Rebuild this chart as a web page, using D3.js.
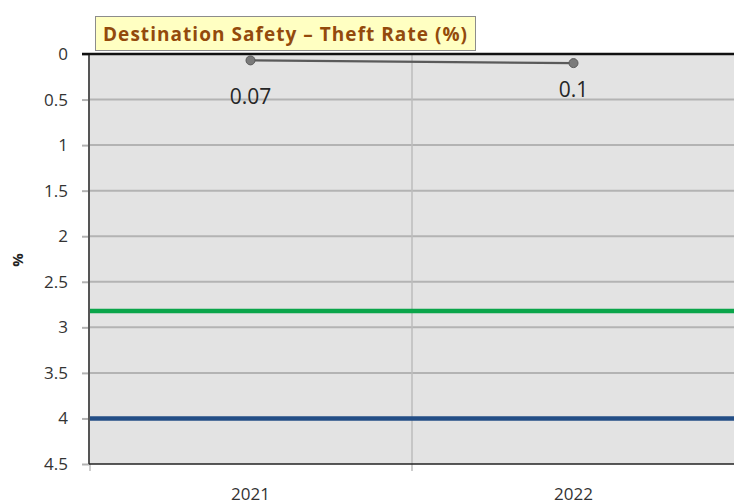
<!DOCTYPE html>
<html>
<head>
<meta charset="utf-8">
<script src="https://cdn.jsdelivr.net/npm/d3@7"></script>
<style>
  body { margin: 0; background: #fff; }
  text { font-family: "Open Sans", Lato, sans-serif; }
</style>
</head>
<body>
<div id="chart"></div>
<script>
const years = ["2021", "2022"];
const theftRate = [0.07, 0.1];
const greenRef = 2.82;
const blueRef = 4.0;
const yTicks = [0, 0.5, 1, 1.5, 2, 2.5, 3, 3.5, 4, 4.5];

const width = 734, height = 504;
const margin = { top: 54, left: 89, bottom: 40, right: -1 };
const plotW = width - margin.left - margin.right;
const plotH = height - margin.top - margin.bottom;

const svg = d3.select("#chart").append("svg")
  .attr("width", width)
  .attr("height", height);

const x = d3.scaleBand().domain(years).range([margin.left, margin.left + plotW]);
const y = d3.scaleLinear().domain([0, 4.5]).range([margin.top, margin.top + plotH]);

// plot background
svg.append("rect")
  .attr("x", margin.left).attr("y", margin.top)
  .attr("width", plotW).attr("height", plotH)
  .attr("fill", "#e3e3e3");

// horizontal gridlines
svg.append("g").selectAll("line")
  .data(yTicks.slice(1, -1))
  .join("line")
  .attr("x1", margin.left).attr("x2", margin.left + plotW)
  .attr("y1", d => y(d)).attr("y2", d => y(d))
  .attr("stroke", "#b3b3b3").attr("stroke-width", 2);

// vertical gridline between categories
svg.append("line")
  .attr("x1", x("2022")).attr("x2", x("2022"))
  .attr("y1", margin.top).attr("y2", margin.top + plotH + 7)
  .attr("stroke", "#bcbcbc").attr("stroke-width", 1.5);
svg.append("line")
  .attr("x1", margin.left + 1).attr("x2", margin.left + 1)
  .attr("y1", margin.top + plotH).attr("y2", margin.top + plotH + 7)
  .attr("stroke", "#bcbcbc").attr("stroke-width", 1.5);

// reference lines
svg.append("line")
  .attr("x1", margin.left).attr("x2", margin.left + plotW)
  .attr("y1", y(greenRef)).attr("y2", y(greenRef))
  .attr("stroke", "#0aa54a").attr("stroke-width", 4.5);
svg.append("line")
  .attr("x1", margin.left).attr("x2", margin.left + plotW)
  .attr("y1", y(blueRef)).attr("y2", y(blueRef))
  .attr("stroke", "#234e86").attr("stroke-width", 4.5);

// y axis
const yAxis = svg.append("g")
  .attr("transform", `translate(${margin.left},0)`)
  .call(d3.axisLeft(y).tickValues(yTicks).tickFormat(d => d).tickSize(7).tickPadding(14));
yAxis.select(".domain").remove();
yAxis.selectAll(".tick line").attr("stroke", "#b3b3b3").attr("stroke-width", 2);
yAxis.selectAll(".tick text").attr("font-size", 17).attr("fill", "#333");

// plot borders
svg.append("line")
  .attr("x1", margin.left).attr("x2", margin.left)
  .attr("y1", margin.top).attr("y2", margin.top + plotH)
  .attr("stroke", "#555").attr("stroke-width", 2);
svg.append("line")
  .attr("x1", margin.left).attr("x2", width)
  .attr("y1", margin.top + plotH).attr("y2", margin.top + plotH)
  .attr("stroke", "#222").attr("stroke-width", 1.5);
svg.append("line")
  .attr("x1", margin.left - 7).attr("x2", width)
  .attr("y1", margin.top).attr("y2", margin.top)
  .attr("stroke", "#111").attr("stroke-width", 2.5);

// x labels
svg.append("g").selectAll("text")
  .data(years)
  .join("text")
  .attr("x", d => x(d) + x.bandwidth() / 2)
  .attr("y", 500)
  .attr("text-anchor", "middle")
  .attr("font-size", 17).attr("fill", "#333")
  .text(d => d);

// series line
const pts = years.map((d, i) => [x(d) + x.bandwidth() / 2, y(theftRate[i])]);
svg.append("path")
  .attr("d", d3.line()(pts))
  .attr("fill", "none").attr("stroke", "#5a5a5a").attr("stroke-width", 2.2);
svg.append("g").selectAll("circle")
  .data(pts)
  .join("circle")
  .attr("cx", d => d[0]).attr("cy", d => d[1]).attr("r", 4.5)
  .attr("fill", "#7a7a7a").attr("stroke", "#5a5a5a").attr("stroke-width", 1);

// data labels
const labelOffset = [44, 34];
svg.append("g").selectAll("text")
  .data(theftRate)
  .join("text")
  .attr("x", (d, i) => pts[i][0])
  .attr("y", (d, i) => pts[i][1] + labelOffset[i])
  .attr("text-anchor", "middle")
  .attr("font-size", 21).attr("fill", "#262626")
  .text(d => d);

// y axis title
svg.append("text")
  .attr("transform", "translate(23,260) rotate(-90)")
  .attr("text-anchor", "middle")
  .attr("font-size", 15).attr("font-weight", "bold").attr("fill", "#222")
  .text("%");

// title box
svg.append("rect")
  .attr("x", 95.5).attr("y", 16.5).attr("width", 380).attr("height", 34)
  .attr("fill", "#ffffc2").attr("stroke", "#8c8c8c").attr("stroke-width", 1);
svg.append("text")
  .attr("x", 285).attr("y", 41)
  .attr("text-anchor", "middle")
  .attr("font-size", 19).attr("font-weight", "bold").attr("fill", "#934a0c")
  .attr("textLength", 364).attr("lengthAdjust", "spacing")
  .text("Destination Safety – Theft Rate (%)");
</script>
</body>
</html>
